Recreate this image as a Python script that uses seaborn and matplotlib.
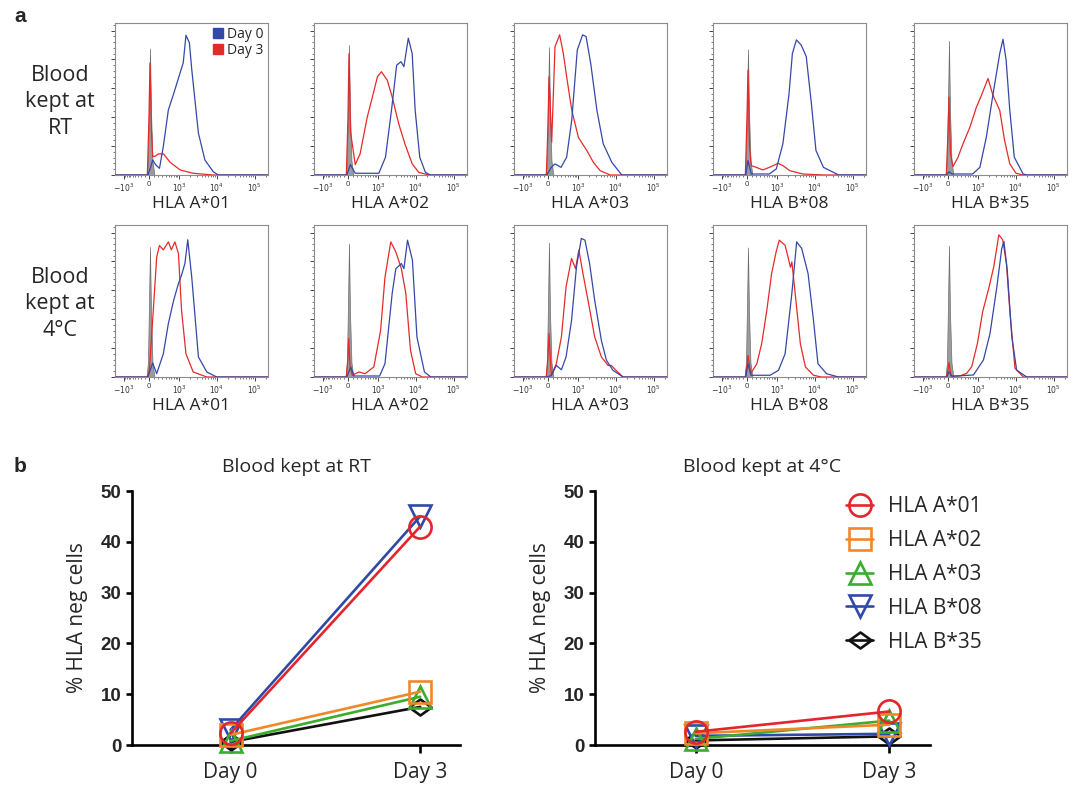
import numpy as np
import pandas as pd
import seaborn as sns
import matplotlib.pyplot as plt
from matplotlib.patches import Patch
from matplotlib.ticker import FixedLocator, MultipleLocator

# ---------------- data ----------------
alleles = ["HLA A*01", "HLA A*02", "HLA A*03", "HLA B*08", "HLA B*35"]
row_labels = ["Blood\nkept at\nRT", "Blood\nkept at\n4°C"]

# panel a: histograms, (fluorescence intensity, % of max)
# grey = control, d0 = Day 0 (blue), d3 = Day 3 (red)
rt_a01_iso = [(-60, 0), (-25, 10), (0, 50), (20, 87.5), (40, 45), (70, 10), (110, 0)]
rt_a01_d0 = [(-1900, 0), (-30, 0), (30, 5), (75, 10.4), (140, 7), (225, 4.6), (325, 19.7), (485, 45),
             (690, 55.7), (1070, 70.8), (1300, 77.7), (1540, 96.7), (1900, 91.6), (2200, 73),
             (3300, 29), (4900, 10.4), (8100, 2.3), (11000, 0), (224000, 0)]
rt_a01_d3 = [(-1900, 0), (-40, 0), (0, 40), (20, 77.5), (50, 30), (75, 12.8), (130, 13), (200, 14.6),
             (330, 14.6), (550, 8.8), (1070, 3.5), (2400, 1.2), (8000, 0), (224000, 0)]

rt_a02_iso = [(-60, 0), (-25, 10), (0, 52), (20, 90), (40, 45), (70, 10), (110, 0)]
rt_a02_d0 = [(-1900, 0), (-30, 0), (47, 7.2), (150, 1.2), (1050, 1.2), (1590, 12.3), (2300, 44.8),
             (3150, 76), (4100, 78.4), (4900, 75), (6400, 94.7), (8100, 84), (9700, 44.8),
             (12800, 12.3), (18000, 1.9), (24000, 0), (224000, 0)]
rt_a02_d3 = [(-1900, 0), (-40, 0), (0, 40), (20, 84), (50, 30), (150, 7.2), (265, 14.6), (480, 40),
             (690, 54), (960, 68), (1230, 71.5), (1770, 65.7), (2400, 54), (3570, 35.5), (5200, 21.6),
             (8100, 7.7), (12000, 1.9), (22000, 0), (224000, 0)]

rt_a03_iso = [(-60, 0), (-25, 10), (0, 50), (20, 88.5), (40, 45), (70, 10), (110, 0)]
rt_a03_d0 = [(-1900, 0), (-30, 0), (60, 5), (145, 7.7), (290, 5.3), (460, 12.3), (660, 37.8), (950, 86.5),
             (1330, 97), (1650, 95.8), (2200, 77), (3200, 44.8), (4700, 21.6), (7900, 8.8),
             (14500, 0), (224000, 0)]
rt_a03_d3 = [(-1900, 0), (-40, 0), (0, 35), (20, 68), (75, 22.7), (145, 88.9), (255, 97), (355, 84),
             (460, 68), (660, 45), (1020, 26), (1720, 17), (2580, 8.8), (3900, 3), (7200, 0), (224000, 0)]

rt_b08_iso = [(-60, 0), (-25, 10), (0, 50), (20, 87), (40, 45), (70, 10), (110, 0)]
rt_b08_d0 = [(-1900, 0), (-30, 0), (20, 10), (87, 0.7), (600, 0.7), (950, 4.2), (1440, 21.6), (2100, 56),
             (2580, 84), (3300, 93.5), (4400, 90), (6000, 82), (8200, 49.4), (10800, 17), (17000, 5.3),
             (38000, 0.7), (42000, 0), (224000, 0)]
rt_b08_d3 = [(-1900, 0), (-40, 0), (0, 40), (20, 72.6), (50, 20), (87, 6.5), (195, 5.3), (370, 3.5),
             (600, 5.3), (1070, 8.1), (1440, 6.5), (2200, 3), (4900, 0.7), (17000, 0), (224000, 0)]

rt_b35_iso = [(-60, 0), (-25, 10), (0, 52), (20, 92.8), (40, 45), (70, 10), (110, 0)]
rt_b35_d0 = [(-1900, 0), (-30, 0), (20, 2.3), (80, 0.7), (700, 0.7), (1120, 5.3), (1670, 26), (2530, 56),
             (3800, 84), (4630, 94), (5600, 79.6), (7000, 44.8), (9200, 12.3), (15700, 0.7),
             (20000, 0), (224000, 0)]
rt_b35_d3 = [(-1900, 0), (-40, 0), (0, 30), (20, 54), (50, 15), (101, 5.8), (214, 12.3), (345, 21.6),
             (580, 33), (900, 47), (1230, 55), (1860, 66.8), (2530, 55), (3800, 44.8), (5100, 24),
             (7000, 7.7), (10200, 1.2), (15700, 0), (224000, 0)]

c4_a01_iso = [(-60, 0), (-25, 10), (0, 52), (20, 90), (40, 45), (70, 10), (110, 0)]
c4_a01_d0 = [(-1900, 0), (-30, 0), (75, 9.7), (160, 2.3), (325, 16), (485, 37), (700, 53), (960, 64.7),
             (1170, 70.5), (1440, 78.5), (1720, 95), (2200, 69), (3300, 13.9), (5500, 3.5),
             (10000, 0), (224000, 0)]
c4_a01_d3 = [(-1900, 0), (-40, 0), (7, 4.6), (87, 46), (160, 83), (225, 91), (325, 88), (485, 93.5),
             (600, 88), (760, 93.5), (960, 85.5), (1170, 46), (1540, 16), (2400, 3.5), (5500, 0),
             (224000, 0)]

c4_a02_iso = [(-60, 0), (-25, 10), (0, 52), (20, 92.4), (40, 45), (70, 10), (110, 0)]
c4_a02_d0 = [(-1900, 0), (-30, 0), (54, 7), (125, 0.7), (1100, 0.7), (1540, 9.2), (2400, 57.8),
             (3000, 75), (4200, 78.5), (4900, 75), (6100, 94.7), (8200, 81), (10800, 27.7),
             (17000, 3.5), (25000, 0), (224000, 0)]
c4_a02_d3 = [(-1900, 0), (-40, 0), (0, 14), (15, 26.6), (40, 8), (87, 1.2), (235, 3.5), (410, 2.3),
             (760, 7), (1170, 32), (1540, 69), (2200, 93.5), (3000, 86.6), (4200, 75), (5500, 57.8),
             (7300, 18.5), (10000, 2.3), (15000, 0), (224000, 0)]

c4_a03_iso = [(-60, 0), (-25, 10), (0, 52), (20, 92.9), (40, 45), (70, 10), (110, 0)]
c4_a03_d0 = [(-1900, 0), (-30, 0), (67, 1), (175, 8), (300, 5), (440, 13.9), (650, 39), (900, 76),
             (1230, 95.9), (1540, 94.7), (2050, 78.5), (2800, 53), (4200, 25.4), (5700, 11.6),
             (8500, 4.6), (15700, 0), (224000, 0)]
c4_a03_d3 = [(-1900, 0), (-40, 0), (0, 15), (20, 30), (67, 1.2), (175, 9.2), (300, 27.7), (440, 62.4),
             (650, 82), (850, 75), (1050, 87.8), (1360, 71.6), (1860, 53), (2800, 27.7), (4200, 13.9),
             (6300, 8), (7700, 8), (10200, 4.6), (15700, 0), (224000, 0)]

c4_b08_iso = [(-60, 0), (-25, 10), (0, 50), (20, 89.6), (40, 45), (70, 10), (110, 0)]
c4_b08_d0 = [(-1900, 0), (-30, 0), (20, 9.2), (80, 1.2), (630, 1.2), (1090, 4.6), (1650, 16), (2500, 57.8),
             (3350, 93.5), (4550, 89), (6700, 71.6), (9300, 39.3), (12200, 9.2), (20500, 2.3),
             (42000, 0), (224000, 0)]
c4_b08_d3 = [(-1900, 0), (-40, 0), (0, 8), (20, 15), (75, 2.3), (210, 9.2), (335, 23), (500, 46),
             (700, 71.6), (940, 86.6), (1150, 94.7), (1650, 91.2), (2300, 76), (2500, 79.7), (3000, 60),
             (4200, 23), (5700, 7), (9300, 1.2), (15000, 0), (224000, 0)]

c4_b35_iso = [(-60, 0), (-25, 10), (0, 52), (20, 90.8), (40, 45), (70, 10), (110, 0)]
c4_b35_d0 = [(-1900, 0), (-30, 0), (20, 3.7), (80, 0.5), (740, 1.4), (1400, 11.8), (2100, 30),
             (3200, 62.6), (4300, 89), (4900, 93.8), (6000, 74), (7900, 28), (10600, 4.8),
             (19500, 0), (224000, 0)]
c4_b35_d3 = [(-1900, 0), (-40, 0), (0, 5), (20, 10), (60, 0.7), (255, 0.7), (460, 2.5), (660, 7.2),
             (960, 23.3), (1330, 45), (2000, 62.6), (2650, 76.5), (3600, 98.4), (4550, 95), (5700, 78.8),
             (7100, 44), (9600, 6), (16000, 0), (224000, 0)]

# panel b: % HLA negative cells
days = ["Day 0", "Day 3"]
rt_day0 = [2.3, 2.0, 0.8, 3.0, 0.6]
rt_day3 = [43.0, 10.5, 9.5, 45.0, 7.5]
c4_day0 = [2.6, 2.3, 1.2, 1.8, 0.9]
c4_day3 = [6.6, 4.0, 4.8, 2.2, 1.7]

# ---------------- style ----------------
sns.set_theme(style="white")
plt.rcParams["font.family"] = ["Open Sans", "DejaVu Sans"]
plt.rcParams["mathtext.fontset"] = "dejavusans"

BLUE_H, RED_H = "#3448a8", "#e52a2a"
line_colors = ["#e3262b", "#f0882a", "#3cac2f", "#2f4aa6", "#111111"]
diamond = [(-1, 0), (0, 0.72), (1, 0), (0, -0.72), (-1, 0)]
marker_map = dict(zip(alleles, ["o", "s", "^", "v", diamond]))
color_map = dict(zip(alleles, line_colors))

W, H = 1077, 786
fig = plt.figure(figsize=(W / 100, H / 100), dpi=100)


def rect(left, top, width, height):
    return [left / W, 1 - (top + height) / H, width / W, height / H]


# biexponential-like axis used by the cytometry software
C, NEG = 332.0, 0.83


def biex(v):
    v = np.asarray(v, dtype=float)
    s = np.arcsinh(v / C)
    return np.where(v < 0, NEG * s, s)


def biex_inv(u):
    u = np.asarray(u, dtype=float)
    with np.errstate(over="ignore"):
        return np.where(u < 0, C * np.sinh(u / NEG), C * np.sinh(u))


minor_x = ([-k * 100 for k in range(1, 10)] + [k * 100 for k in range(1, 10)]
           + [k * 1000 for k in range(2, 10)] + [k * 10000 for k in range(2, 10)] + [200000])

panels = [
    [(rt_a01_iso, rt_a01_d0, rt_a01_d3), (rt_a02_iso, rt_a02_d0, rt_a02_d3), (rt_a03_iso, rt_a03_d0, rt_a03_d3),
     (rt_b08_iso, rt_b08_d0, rt_b08_d3), (rt_b35_iso, rt_b35_d0, rt_b35_d3)],
    [(c4_a01_iso, c4_a01_d0, c4_a01_d3), (c4_a02_iso, c4_a02_d0, c4_a02_d3), (c4_a03_iso, c4_a03_d0, c4_a03_d3),
     (c4_b08_iso, c4_b08_d0, c4_b08_d3), (c4_b35_iso, c4_b35_d0, c4_b35_d3)],
]

col_left = [115, 314, 514, 713, 914]
row_top = [23, 225]
for r in range(2):
    fig.text(60 / W, 1 - (row_top[r] + 79) / H, row_labels[r], ha="center", va="center",
             fontsize=15.5, linespacing=1.35)
    for c in range(5):
        ax = fig.add_axes(rect(col_left[c], row_top[r], 153, 152))
        iso, d0, d3 = panels[r][c]
        ix, iy = zip(*iso)
        ax.fill_between(ix, iy, color="#9b9b9b", edgecolor="#6e6e6e", lw=0.5, zorder=1)
        x0, y0 = zip(*d0)
        x3, y3 = zip(*d3)
        ax.plot(x3, y3, color=RED_H, lw=0.9, zorder=2)
        ax.plot(x0, y0, color=BLUE_H, lw=0.9, zorder=3)
        ax.set_xscale("function", functions=(biex, biex_inv))
        ax.set_xlim(-1970, 224000)
        ax.set_ylim(0, 105.2)
        ax.set_xticks([-1000, 0, 1000, 10000, 100000])
        ax.set_xticklabels([r"$-10^3$", "0", r"$10^3$", r"$10^4$", r"$10^5$"])
        ax.xaxis.set_minor_locator(FixedLocator(minor_x))
        ax.yaxis.set_major_locator(MultipleLocator(20))
        ax.yaxis.set_minor_locator(MultipleLocator(4))
        ax.tick_params(which="major", length=3, width=0.7, color="#444444", labelsize=5.5,
                       pad=1.5, labelcolor="#333333", bottom=True, left=True, labelleft=False)
        ax.tick_params(which="minor", length=1.6, width=0.5, color="#444444", bottom=True, left=True)
        for sp in ax.spines.values():
            sp.set_color("#8c8c8c")
            sp.set_linewidth(0.8)
        ax.grid(False)
        fig.text((col_left[c] + 76.5) / W, 1 - (row_top[r] + 181) / H, alleles[c],
                 ha="center", va="center", fontsize=12.5)
        if r == 0 and c == 0:
            ax.legend(handles=[Patch(color=BLUE_H, label="Day 0"), Patch(color=RED_H, label="Day 3")],
                      loc="upper right", frameon=False, fontsize=10, handlelength=0.75,
                      handleheight=0.75, handletextpad=0.3, labelspacing=0.05,
                      borderpad=0.1, borderaxespad=0.2)

fig.text(20 / W, 1 - 17 / H, "a", fontsize=15, fontweight="bold", family="Liberation Sans",
         ha="center", va="center")
fig.text(20 / W, 1 - 467 / H, "b", fontsize=15, fontweight="bold", family="Liberation Sans",
         ha="center", va="center")

# ---------------- panel b ----------------
def long_table(day0, day3):
    return pd.DataFrame({
        "allele": alleles * 2,
        "day": [days[0]] * len(alleles) + [days[1]] * len(alleles),
        "pct": list(day0) + list(day3),
    })


ax_rt = fig.add_axes(rect(132, 491, 328, 254))
ax_4c = fig.add_axes(rect(595, 491, 335, 254))
setups = [(ax_rt, long_table(rt_day0, rt_day3), "Blood kept at RT"),
          (ax_4c, long_table(c4_day0, c4_day3), "Blood kept at 4°C")]

for ax, df, title in setups:
    sns.lineplot(data=df, x="day", y="pct", hue="allele", style="allele", markers=marker_map,
                 dashes=False, palette=color_map, linewidth=1.9, markersize=16, ax=ax, legend=False)
    for i, line in enumerate(ax.lines):
        col = line.get_color()
        line.set_markerfacecolor("none")
        line.set_markeredgecolor(col)
        line.set_markeredgewidth(1.9)
        line.set_clip_on(False)
        line.set_zorder(10 - i)
    ax.set_xlim(-0.52, 1.21)
    ax.set_ylim(0, 50)
    ax.set_yticks([0, 10, 20, 30, 40, 50])
    ax.set_xlabel("")
    ax.set_ylabel("% HLA neg cells", fontsize=15, labelpad=9)
    ax.set_title(title, fontsize=14, pad=14)
    sns.despine(ax=ax)
    for side in ["left", "bottom"]:
        ax.spines[side].set_linewidth(1.9)
        ax.spines[side].set_color("black")
    ax.tick_params(axis="y", length=4.5, width=1.9, color="black", pad=3, left=True)
    ax.tick_params(axis="x", length=5.5, width=1.9, color="black", pad=6.5, bottom=True, labelsize=15)
    for lab in ax.get_yticklabels():
        lab.set_fontweight("bold")
        lab.set_fontfamily("Liberation Sans")
        lab.set_fontsize(13.5)
    ax.grid(False)

ax_4c.legend(handles=list(ax_4c.lines), labels=alleles, loc="upper left",
             bbox_to_anchor=(846 / W, 1 - 496 / H), bbox_transform=fig.transFigure,
             frameon=False, fontsize=15, handlelength=1.3, handletextpad=0.7,
             labelspacing=0.62, borderpad=0, borderaxespad=0)

fig.savefig("out.png", dpi=100)
